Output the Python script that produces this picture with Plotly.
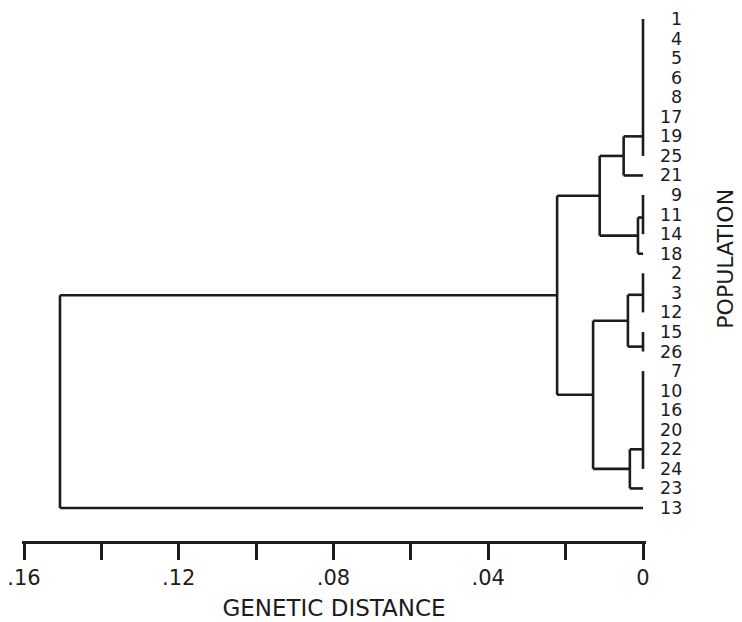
import plotly.graph_objects as go

# ---------------- data ----------------
leaves = ["1", "4", "5", "6", "8", "17", "19", "25", "21", "9", "11", "14", "18",
          "2", "3", "12", "15", "26", "7", "10", "16", "20", "22", "24", "23", "13"]

# groups of populations joined at (essentially) zero distance;
# attach = leaf-axis position where the group's branch leaves its vertical bar
zero_groups = {
    "G1": ["1", "4", "5", "6", "8", "17", "19", "25"],
    "G2": ["9", "11", "14"],
    "G3": ["2", "3", "12"],
    "G4": ["15", "26"],
    "G5": ["7", "10", "16", "20", "22", "24"],
}
zero_attach = {"G1": 6.0, "G2": 10.15, "G3": 14.1, "G4": 16.75, "G5": 22.0}

# internal nodes: (name, child_1, child_2, genetic distance)
nodes = [
    ("A", "G1", "21", 0.0050),
    ("B", "G2", "18", 0.0013),
    ("AB", "A", "B", 0.0112),
    ("C", "G3", "G4", 0.0039),
    ("D", "G5", "23", 0.0034),
    ("CD", "C", "D", 0.0129),
    ("ABCD", "AB", "CD", 0.0222),
    ("ROOT", "ABCD", "13", 0.1507),
]

major_ticks = [0.16, 0.12, 0.08, 0.04, 0.0]
major_labels = [".16", ".12", ".08", ".04", "0"]

# ---------------- build dendrogram segments ----------------
pos = {name: i for i, name in enumerate(leaves)}
ypos = {}
height = {}
for leaf in leaves:
    ypos[leaf] = pos[leaf]
    height[leaf] = 0.0

xs, ys = [], []
for g, members in zero_groups.items():
    idx = [pos[m] for m in members]
    xs += [0.0, 0.0, None]
    ys += [min(idx), max(idx), None]
    ypos[g] = zero_attach[g]
    height[g] = 0.0

for name, c1, c2, h in nodes:
    y1, y2 = ypos[c1], ypos[c2]
    # vertical bar
    xs += [h, h, None]
    ys += [y1, y2, None]
    # horizontal branches to children
    for c in (c1, c2):
        xs += [h, height[c], None]
        ys += [ypos[c], ypos[c], None]
    ypos[name] = (y1 + y2) / 2
    height[name] = h

fig = go.Figure()
fig.add_trace(go.Scatter(x=xs, y=ys, mode="lines",
                         line=dict(color="#1c1c1c", width=2.6),
                         hoverinfo="skip", showlegend=False))

font_fam = "DejaVu Sans"

annotations = []
for leaf in leaves:
    annotations.append(dict(text=leaf, xref="paper", x=1, xshift=37, xanchor="right",
                            yref="y", y=pos[leaf], yanchor="middle", showarrow=False,
                            borderpad=0,
                            font=dict(family=font_fam, size=17.5, color="#1c1c1c")))
annotations.append(dict(text="POPULATION", xref="paper", x=1.126, xanchor="center",
                        yref="paper", y=0.533, yanchor="middle", textangle=-90,
                        showarrow=False,
                        font=dict(family=font_fam, size=22, color="#1c1c1c")))

fig.update_layout(
    width=734, height=614,
    margin=dict(l=14, r=96, t=4, b=81, autoexpand=False),
    paper_bgcolor="white", plot_bgcolor="white",
    annotations=annotations,
    xaxis=dict(
        range=[0.160517, -0.000775],
        automargin=False,
        showgrid=False, zeroline=False,
        showline=True, linecolor="#1c1c1c", linewidth=2.6,
        ticks="outside", ticklen=16, tickwidth=2.6, tickcolor="#1c1c1c",
        tickvals=major_ticks, ticktext=major_labels,
        ticklabeloverflow="allow",
        tickfont=dict(family=font_fam, size=21, color="#1c1c1c"),
        minor=dict(dtick=0.02, ticks="outside", ticklen=16, tickwidth=2.6,
                   tickcolor="#1c1c1c", showgrid=False),
        title=dict(text="GENETIC DISTANCE", standoff=11,
                   font=dict(family=font_fam, size=23, color="#1c1c1c")),
    ),
    yaxis=dict(
        range=[26.687, -0.358],
        automargin=False,
        showgrid=False, zeroline=False, showline=False,
        showticklabels=False, ticks="",
    ),
)

fig.write_html("out.html")
